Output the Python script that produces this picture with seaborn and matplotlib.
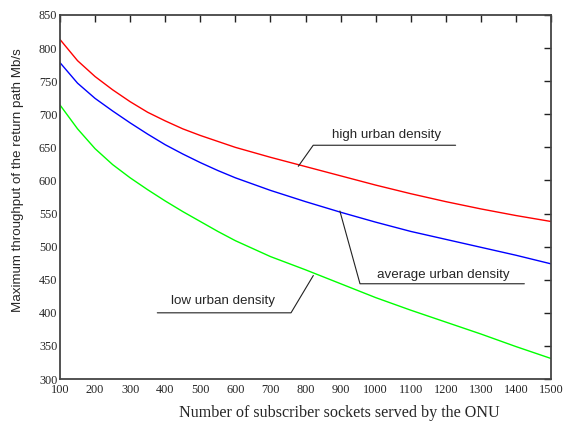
import matplotlib
matplotlib.use("Agg")
import matplotlib.pyplot as plt
import seaborn as sns
import pandas as pd

sockets = [100, 150, 200, 250, 300, 350, 400, 450, 500, 550, 600,
           700, 800, 900, 1000, 1100, 1200, 1300, 1400, 1500]
high_density = [813, 781, 757, 737, 719, 703, 690, 678, 668, 659, 650,
                635, 621, 607, 593, 580, 568, 557, 547, 538]
average_density = [778, 747, 724, 705, 687, 670, 654, 640, 627, 615, 604,
                   585, 568, 552, 537, 523, 511, 499, 487, 474]
low_density = [714, 678, 648, 624, 604, 586, 569, 553, 538, 523, 509,
               485, 465, 444, 423, 404, 386, 368, 349, 331]

series_names = ["high urban density", "average urban density", "low urban density"]
series_colors = ["#ff0000", "#0000ff", "#00ff00"]
x_ticks = list(range(100, 1501, 100))
y_ticks = list(range(300, 851, 50))

df = pd.concat([
    pd.DataFrame({"x": sockets, "y": high_density, "s": series_names[0]}),
    pd.DataFrame({"x": sockets, "y": average_density, "s": series_names[1]}),
    pd.DataFrame({"x": sockets, "y": low_density, "s": series_names[2]}),
])

sns.set_style("white")
plt.rcParams["font.family"] = ["Liberation Sans", "DejaVu Sans"]

fig = plt.figure(figsize=(5.68, 4.23), dpi=100)
ax = fig.add_axes([60 / 568, 1 - 379 / 423, (551 - 60) / 568, (379 - 15) / 423])

sns.lineplot(data=df, x="x", y="y", hue="s", palette=dict(zip(series_names, series_colors)),
             linewidth=1.0, legend=False, ax=ax, sort=False)

ax.set_xlim(100, 1500)
ax.set_ylim(300, 850)
ax.set_xticks(x_ticks)
ax.set_yticks(y_ticks)
ax.tick_params(direction="in", length=5, width=1, color="#222222", top=True, right=True,
               labelsize=8.8, pad=2)
ax.tick_params(axis="x", pad=3.5)
for lab in ax.get_xticklabels() + ax.get_yticklabels():
    lab.set_fontfamily("Liberation Serif")
for sp in ax.spines.values():
    sp.set_color("#444444")
    sp.set_linewidth(1.3)

ax.set_xlabel("Number of subscriber sockets served by the ONU", fontfamily="Liberation Serif",
              fontsize=11.6)
ax.xaxis.set_label_coords((339 - 60) / 491, -(413 - 379) / 364)
ax.xaxis.label.set_va("center")
ax.set_ylabel("Maximum throughput of the return path Mb/s", fontsize=9.6)
ax.yaxis.set_label_coords(-(60 - 18) / 491, (379 - 180.5) / 364)
ax.yaxis.label.set_va("center")

lc = "#222222"
fs = 9.6
# high urban density
ax.plot([779.5, 822, 1228], [621.4, 653.2, 653.2], color=lc, lw=0.8)
ax.text(875, 669, series_names[0], fontsize=fs, va="center", ha="left")
# average urban density
ax.plot([898, 955.4, 1424], [553.8, 443.9, 443.9], color=lc, lw=0.8)
ax.text(1003, 456.4, series_names[1], fontsize=fs, va="center", ha="left")
# low urban density
ax.plot([822.3, 758.7, 377.4], [456.4, 400, 400], color=lc, lw=0.8)
ax.text(415.6, 417.5, series_names[2], fontsize=fs, va="center", ha="left")

fig.savefig("out.png", dpi=100)
